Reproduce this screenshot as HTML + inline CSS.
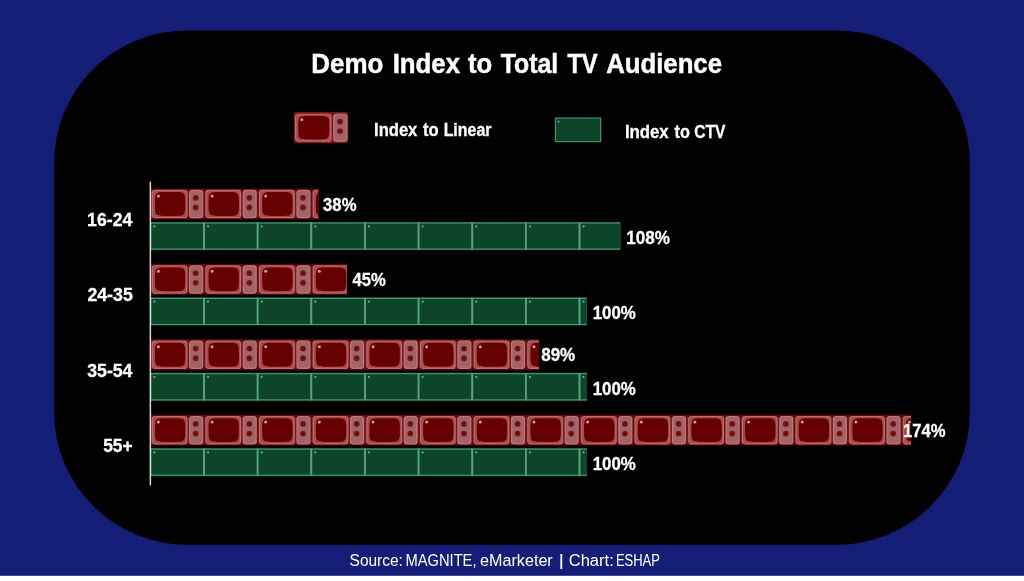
<!DOCTYPE html>
<html lang="en">
<head>
<meta charset="utf-8">
<title>Demo Index to Total TV Audience</title>
<style>
html,body{margin:0;padding:0;background:#fff;}
body{width:1024px;height:581px;overflow:hidden;font-family:"Liberation Sans",Arial,sans-serif;}
svg{display:block;}
text{font-family:"Liberation Sans",Arial,sans-serif;fill:#fff;filter:url(#tsoft);}
.b{font-weight:bold;}
</style>
</head>
<body>
<svg width="1024" height="581" viewBox="0 0 1024 581">
<defs>
<filter id="soft" x="-5%" y="-5%" width="110%" height="110%"><feGaussianBlur stdDeviation="0.45"/></filter>
<filter id="tsoft" x="-5%" y="-30%" width="110%" height="160%"><feGaussianBlur stdDeviation="0.3"/></filter>
<filter id="glow" x="-10%" y="-15%" width="120%" height="130%"><feGaussianBlur stdDeviation="0.6"/></filter>
<filter id="soft2" x="-5%" y="-20%" width="110%" height="140%"><feGaussianBlur stdDeviation="0.35"/></filter>
<linearGradient id="rbg" x1="0" y1="0" x2="0" y2="1"><stop offset="0" stop-color="#1c0000"/><stop offset="0.07" stop-color="#621010"/><stop offset="0.14" stop-color="#7a1616"/><stop offset="0.86" stop-color="#7a1616"/><stop offset="0.93" stop-color="#621010"/><stop offset="1" stop-color="#1c0000"/></linearGradient>
<rect id="tvbg" x="0" y="0" width="53.65" height="32.4" fill="url(#rbg)"/>
<g id="tv">
<rect x="1.9" y="2.6" width="34.6" height="27.3" rx="2.8" ry="2.8" fill="#a54c4e" stroke="#bb6c6e" stroke-width="1.2"/>
<path d="M4.5 16.2 C4.5 9 4.8 6.9 6.2 5.7 C7.5 4.5 9.4 4.3 13 4.3 L26.4 4.3 C30 4.3 31.9 4.5 33.2 5.7 C34.6 6.9 34.9 9 34.9 16.2 C34.9 23.4 34.6 25.5 33.2 26.7 C31.9 27.9 30 28.1 26.4 28.1 L13 28.1 C9.4 28.1 7.5 27.9 6.2 26.7 C4.8 25.5 4.5 23.4 4.5 16.2 Z" fill="#660000"/>
<circle cx="8.0" cy="8.2" r="1.5" fill="#d39a9a"/>
<rect x="39.3" y="2.6" width="12.8" height="27.3" rx="2.6" ry="2.6" fill="#a26466" stroke="#ba7a7c" stroke-width="1.2"/>
<circle cx="45.3" cy="10.0" r="2.9" fill="#7a1618"/>
<circle cx="45.3" cy="19.7" r="2.9" fill="#7a1618"/>
<circle cx="45.3" cy="10.0" r="1.3" fill="#650a0c"/>
<circle cx="45.3" cy="19.7" r="1.3" fill="#650a0c"/>
</g>
<g id="gt">
<rect x="0" y="0" width="53.65" height="28.7" fill="#0b3b24"/>
<rect x="0" y="0.7" width="53.65" height="27.3" fill="#4d9772"/>
<rect x="0" y="1.9" width="53.65" height="24.9" fill="#07442a"/>
<rect x="-0.9" y="0.7" width="1.8" height="27.3" fill="#5aa37d"/>
<rect x="52.75" y="0.7" width="1.8" height="27.3" fill="#5aa37d"/>
<circle cx="4.0" cy="4.6" r="1.15" fill="#62ad88"/>
</g>

<clipPath id="cr0"><rect x="150.4" y="187.80" width="167.80" height="32.4"/></clipPath>
<clipPath id="cg0"><rect x="150.4" y="221.70" width="469.90" height="28.7"/></clipPath>
<clipPath id="cr1"><rect x="150.4" y="263.17" width="196.50" height="32.4"/></clipPath>
<clipPath id="cg1"><rect x="150.4" y="297.07" width="436.30" height="28.7"/></clipPath>
<clipPath id="cr2"><rect x="150.4" y="338.54" width="388.10" height="32.4"/></clipPath>
<clipPath id="cg2"><rect x="150.4" y="372.44" width="436.30" height="28.7"/></clipPath>
<clipPath id="cr3"><rect x="150.4" y="413.91" width="760.20" height="32.4"/></clipPath>
<clipPath id="cg3"><rect x="150.4" y="447.81" width="436.30" height="28.7"/></clipPath>
</defs>
<rect x="0" y="0" width="1024" height="581" fill="#ffffff"/>
<rect x="0" y="0" width="1024" height="575.8" fill="#151e77"/>
<rect x="54" y="30.4" width="916" height="514.3" rx="133" ry="133" fill="#000000"/>
<text class="b" y="73.40" font-size="28.0" stroke="#fff" stroke-width="0.5" xml:space="default"><tspan x="311.34" textLength="72.01" lengthAdjust="spacingAndGlyphs">Demo</tspan> <tspan x="392.73" textLength="67.25" lengthAdjust="spacingAndGlyphs">Index</tspan> <tspan x="467.89" textLength="24.25" lengthAdjust="spacingAndGlyphs">to</tspan> <tspan x="500.66" textLength="57.45" lengthAdjust="spacingAndGlyphs">Total</tspan> <tspan x="567.39" textLength="30.31" lengthAdjust="spacingAndGlyphs">TV</tspan> <tspan x="606.20" textLength="115.79" lengthAdjust="spacingAndGlyphs">Audience</tspan></text>
<g filter="url(#soft)">
<rect x="293.9" y="112.0" width="54.4" height="31.3" rx="2" fill="#7a1414" filter="url(#glow)"/>
<use href="#tv" transform="translate(293.6 111.7) scale(1.023 0.985)"/>
<g transform="translate(554.8 117.5) scale(0.865 0.861)"><rect x="0" y="0" width="53.65" height="28.7" fill="#4d9772"/><rect x="1.3" y="1.3" width="51.05" height="26.1" fill="#07442a"/><circle cx="4.3" cy="4.8" r="1.2" fill="#62ad88"/></g>
</g>
<text class="b" y="136.40" font-size="18.2" stroke="#fff" stroke-width="0.3" xml:space="default"><tspan x="374.07" textLength="43.27" lengthAdjust="spacingAndGlyphs">Index</tspan> <tspan x="423.12" textLength="15.61" lengthAdjust="spacingAndGlyphs">to</tspan> <tspan x="443.64" textLength="47.85" lengthAdjust="spacingAndGlyphs">Linear</tspan></text>
<text class="b" y="137.50" font-size="18.2" stroke="#fff" stroke-width="0.3" xml:space="default"><tspan x="624.92" textLength="43.78" lengthAdjust="spacingAndGlyphs">Index</tspan> <tspan x="674.52" textLength="15.38" lengthAdjust="spacingAndGlyphs">to</tspan> <tspan x="694.32" textLength="31.22" lengthAdjust="spacingAndGlyphs">CTV</tspan></text>
<g filter="url(#soft)">
<g clip-path="url(#cr0)">
<use href="#tvbg" x="150.40" y="187.80"/><use href="#tv" x="150.40" y="187.80"/>
<use href="#tvbg" x="204.05" y="187.80"/><use href="#tv" x="204.05" y="187.80"/>
<use href="#tvbg" x="257.70" y="187.80"/><use href="#tv" x="257.70" y="187.80"/>
<use href="#tvbg" x="311.35" y="187.80"/><use href="#tv" x="311.35" y="187.80"/>
</g>
<g clip-path="url(#cg0)">
<use href="#gt" x="150.40" y="221.70"/>
<use href="#gt" x="204.05" y="221.70"/>
<use href="#gt" x="257.70" y="221.70"/>
<use href="#gt" x="311.35" y="221.70"/>
<use href="#gt" x="365.00" y="221.70"/>
<use href="#gt" x="418.65" y="221.70"/>
<use href="#gt" x="472.30" y="221.70"/>
<use href="#gt" x="525.95" y="221.70"/>
<use href="#gt" x="579.60" y="221.70"/>
</g>
<g clip-path="url(#cr1)">
<use href="#tvbg" x="150.40" y="263.17"/><use href="#tv" x="150.40" y="263.17"/>
<use href="#tvbg" x="204.05" y="263.17"/><use href="#tv" x="204.05" y="263.17"/>
<use href="#tvbg" x="257.70" y="263.17"/><use href="#tv" x="257.70" y="263.17"/>
<use href="#tvbg" x="311.35" y="263.17"/><use href="#tv" x="311.35" y="263.17"/>
</g>
<g clip-path="url(#cg1)">
<use href="#gt" x="150.40" y="297.07"/>
<use href="#gt" x="204.05" y="297.07"/>
<use href="#gt" x="257.70" y="297.07"/>
<use href="#gt" x="311.35" y="297.07"/>
<use href="#gt" x="365.00" y="297.07"/>
<use href="#gt" x="418.65" y="297.07"/>
<use href="#gt" x="472.30" y="297.07"/>
<use href="#gt" x="525.95" y="297.07"/>
<use href="#gt" x="579.60" y="297.07"/>
</g>
<g clip-path="url(#cr2)">
<use href="#tvbg" x="150.40" y="338.54"/><use href="#tv" x="150.40" y="338.54"/>
<use href="#tvbg" x="204.05" y="338.54"/><use href="#tv" x="204.05" y="338.54"/>
<use href="#tvbg" x="257.70" y="338.54"/><use href="#tv" x="257.70" y="338.54"/>
<use href="#tvbg" x="311.35" y="338.54"/><use href="#tv" x="311.35" y="338.54"/>
<use href="#tvbg" x="365.00" y="338.54"/><use href="#tv" x="365.00" y="338.54"/>
<use href="#tvbg" x="418.65" y="338.54"/><use href="#tv" x="418.65" y="338.54"/>
<use href="#tvbg" x="472.30" y="338.54"/><use href="#tv" x="472.30" y="338.54"/>
<use href="#tvbg" x="525.95" y="338.54"/><use href="#tv" x="525.95" y="338.54"/>
</g>
<g clip-path="url(#cg2)">
<use href="#gt" x="150.40" y="372.44"/>
<use href="#gt" x="204.05" y="372.44"/>
<use href="#gt" x="257.70" y="372.44"/>
<use href="#gt" x="311.35" y="372.44"/>
<use href="#gt" x="365.00" y="372.44"/>
<use href="#gt" x="418.65" y="372.44"/>
<use href="#gt" x="472.30" y="372.44"/>
<use href="#gt" x="525.95" y="372.44"/>
<use href="#gt" x="579.60" y="372.44"/>
</g>
<g clip-path="url(#cr3)">
<use href="#tvbg" x="150.40" y="413.91"/><use href="#tv" x="150.40" y="413.91"/>
<use href="#tvbg" x="204.05" y="413.91"/><use href="#tv" x="204.05" y="413.91"/>
<use href="#tvbg" x="257.70" y="413.91"/><use href="#tv" x="257.70" y="413.91"/>
<use href="#tvbg" x="311.35" y="413.91"/><use href="#tv" x="311.35" y="413.91"/>
<use href="#tvbg" x="365.00" y="413.91"/><use href="#tv" x="365.00" y="413.91"/>
<use href="#tvbg" x="418.65" y="413.91"/><use href="#tv" x="418.65" y="413.91"/>
<use href="#tvbg" x="472.30" y="413.91"/><use href="#tv" x="472.30" y="413.91"/>
<use href="#tvbg" x="525.95" y="413.91"/><use href="#tv" x="525.95" y="413.91"/>
<use href="#tvbg" x="579.60" y="413.91"/><use href="#tv" x="579.60" y="413.91"/>
<use href="#tvbg" x="633.25" y="413.91"/><use href="#tv" x="633.25" y="413.91"/>
<use href="#tvbg" x="686.90" y="413.91"/><use href="#tv" x="686.90" y="413.91"/>
<use href="#tvbg" x="740.55" y="413.91"/><use href="#tv" x="740.55" y="413.91"/>
<use href="#tvbg" x="794.20" y="413.91"/><use href="#tv" x="794.20" y="413.91"/>
<use href="#tvbg" x="847.85" y="413.91"/><use href="#tv" x="847.85" y="413.91"/>
<use href="#tvbg" x="901.50" y="413.91"/><use href="#tv" x="901.50" y="413.91"/>
</g>
<g clip-path="url(#cg3)">
<use href="#gt" x="150.40" y="447.81"/>
<use href="#gt" x="204.05" y="447.81"/>
<use href="#gt" x="257.70" y="447.81"/>
<use href="#gt" x="311.35" y="447.81"/>
<use href="#gt" x="365.00" y="447.81"/>
<use href="#gt" x="418.65" y="447.81"/>
<use href="#gt" x="472.30" y="447.81"/>
<use href="#gt" x="525.95" y="447.81"/>
<use href="#gt" x="579.60" y="447.81"/>
</g>
</g>
<rect x="149.6" y="181.6" width="1.5" height="303.8" fill="#d9d9d9"/>
<text class="b" y="225.90" font-size="18.6" stroke="#fff" stroke-width="0.3" xml:space="default"><tspan x="87.08" textLength="45.22" lengthAdjust="spacingAndGlyphs">16-24</tspan></text>
<text class="b" y="301.27" font-size="18.6" stroke="#fff" stroke-width="0.3" xml:space="default"><tspan x="87.39" textLength="45.39" lengthAdjust="spacingAndGlyphs">24-35</tspan></text>
<text class="b" y="376.64" font-size="18.6" stroke="#fff" stroke-width="0.3" xml:space="default"><tspan x="87.23" textLength="45.22" lengthAdjust="spacingAndGlyphs">35-54</tspan></text>
<text class="b" y="452.01" font-size="18.6" stroke="#fff" stroke-width="0.3" xml:space="default"><tspan x="103.13" textLength="29.59" lengthAdjust="spacingAndGlyphs">55+</tspan></text>
<text class="b" y="210.70" font-size="18.4" stroke="#fff" stroke-width="0.3" xml:space="default"><tspan x="323.12" textLength="33.34" lengthAdjust="spacingAndGlyphs">38%</tspan></text>
<text class="b" y="286.07" font-size="18.4" stroke="#fff" stroke-width="0.3" xml:space="default"><tspan x="352.49" textLength="33.27" lengthAdjust="spacingAndGlyphs">45%</tspan></text>
<text class="b" y="361.44" font-size="18.4" stroke="#fff" stroke-width="0.3" xml:space="default"><tspan x="541.23" textLength="33.96" lengthAdjust="spacingAndGlyphs">89%</tspan></text>
<text class="b" y="436.81" font-size="18.4" stroke="#fff" stroke-width="0.3" xml:space="default"><tspan x="902.94" textLength="42.49" lengthAdjust="spacingAndGlyphs">174%</tspan></text>
<text class="b" y="244.00" font-size="18.4" stroke="#fff" stroke-width="0.3" xml:space="default"><tspan x="626.37" textLength="43.58" lengthAdjust="spacingAndGlyphs">108%</tspan></text>
<text class="b" y="319.37" font-size="18.4" stroke="#fff" stroke-width="0.3" xml:space="default"><tspan x="592.75" textLength="43.11" lengthAdjust="spacingAndGlyphs">100%</tspan></text>
<text class="b" y="394.74" font-size="18.4" stroke="#fff" stroke-width="0.3" xml:space="default"><tspan x="592.75" textLength="43.11" lengthAdjust="spacingAndGlyphs">100%</tspan></text>
<text class="b" y="470.11" font-size="18.4" stroke="#fff" stroke-width="0.3" xml:space="default"><tspan x="592.75" textLength="43.11" lengthAdjust="spacingAndGlyphs">100%</tspan></text>
<text y="566.20" font-size="16.0" xml:space="default"><tspan x="349.55" textLength="53.38" lengthAdjust="spacingAndGlyphs">Source:</tspan> <tspan x="405.40" textLength="71.14" lengthAdjust="spacingAndGlyphs">MAGNITE,</tspan> <tspan x="480.10" textLength="72.65" lengthAdjust="spacingAndGlyphs">eMarketer</tspan> <tspan x="558.47" textLength="5.57" lengthAdjust="spacingAndGlyphs">|</tspan> <tspan x="568.78" textLength="44.97" lengthAdjust="spacingAndGlyphs">Chart:</tspan> <tspan x="615.92" textLength="44.01" lengthAdjust="spacingAndGlyphs">ESHAP</tspan></text>
</svg>
</body>
</html>
